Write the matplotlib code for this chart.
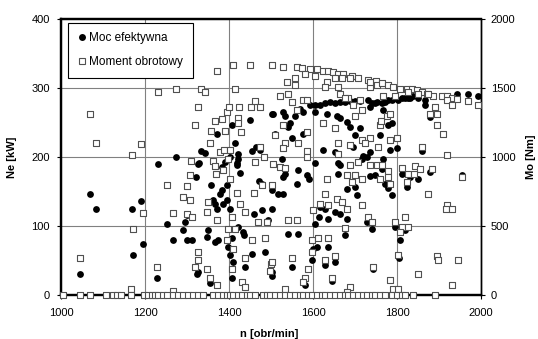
import matplotlib.pyplot as plt
from matplotlib.lines import Line2D

plt.rcParams["font.family"] = ["Liberation Sans", "DejaVu Sans"]

# ── data ──────────────────────────────────────────────────────────────────────
# Moc efektywna: (n [obr/min], Ne [kW])
moc_n = [1045, 1069, 1083, 1169, 1190, 1171, 1195, 1167, 1229, 1252,
         1231, 1274, 1329, 1333, 1343, 1371, 1383, 1390, 1407, 1414,
         1419, 1421, 1450, 1455, 1464, 1474, 1502, 1402, 1326, 1321,
         1357, 1383, 1379, 1395, 1419, 1421, 1426, 1471, 1479, 1362,
         1367, 1386, 1395, 1402, 1371, 1479, 1460, 1493, 1300, 1295,
         1350, 1348, 1290, 1267, 1300, 1312, 1367, 1374, 1421, 1433,
         1436, 1407, 1398, 1410, 1486, 1455, 1402, 1410, 1438, 1324,
         1326, 1355, 1407, 1502,
         1593, 1605, 1617, 1629, 1640, 1652, 1664, 1676, 1688, 1700,
         1712, 1731, 1740, 1752, 1569, 1736, 1505, 1529, 1533, 1557,
         1545, 1540, 1576, 1605, 1633, 1657, 1664, 1681, 1688, 1712,
         1700, 1576, 1510, 1550, 1624, 1652, 1695, 1736, 1719,
         1526, 1533, 1529, 1562, 1564, 1586, 1590, 1605, 1660, 1664,
         1660, 1681, 1700, 1705, 1717, 1729, 1736, 1748, 1502, 1517,
         1529, 1502, 1617, 1629, 1652, 1664, 1681, 1614, 1636, 1605,
         1729, 1740, 1540, 1564, 1676, 1610, 1600, 1636, 1598, 1550,
         1629, 1652, 1502, 1581, 1645, 1743,
         1748, 1764, 1771, 1779, 1788, 1795, 1802, 1812, 1819, 1826,
         1831, 1838, 1850, 1867, 1867, 1931, 1943, 1969, 1993, 1879,
         1767, 1779, 1788, 1760, 1783, 1800, 1860, 1919,
         1767, 1764, 1771, 1779, 1788, 1812, 1824, 1831, 1850, 1879,
         1955, 1795, 1819, 1807, 1805]
moc_ne = [30, 146, 125, 125, 136, 58, 74, 9, 25, 103,
          190, 200, 191, 208, 206, 233, 185, 193, 246, 221,
          191, 204, 253, 208, 214, 210, 262, 200, 190, 171,
          159, 152, 146, 159, 188, 197, 177, 165, 161, 138,
          132, 132, 138, 125, 125, 123, 118, 109, 116, 106,
          94, 84, 94, 80, 80, 79, 77, 80, 99, 92,
          87, 82, 70, 67, 63, 60, 58, 48, 41, 30,
          34, 17, 25, 27,
          275, 276, 276, 278, 279, 278, 279, 279, 281, 281,
          281, 282, 278, 279, 269, 272, 263, 265, 260, 260,
          249, 243, 265, 265, 263, 260, 256, 250, 243, 242,
          232, 234, 234, 227, 210, 207, 214, 207, 202,
          197, 175, 171, 161, 181, 174, 168, 192, 192, 188,
          175, 154, 157, 145, 197, 200, 172, 174, 152, 146,
          146, 125, 128, 125, 120, 118, 110, 113, 110, 103,
          106, 96, 89, 89, 87, 70, 66, 70, 51, 41,
          44, 48, 34, 15, 20, 38,
          278, 278, 279, 282, 282, 285, 283, 285, 286, 286,
          286, 289, 285, 282, 275, 279, 291, 291, 288, 258,
          268, 246, 249, 232, 210, 213, 208, 203,
          197, 183, 161, 155, 145, 175, 157, 171, 168, 178,
          174, 99, 94, 80, 53]

# Moment obrotowy: (n [obr/min], Mo [Nm])
mom_n = [1045, 1069, 1083, 1169, 1190, 1171, 1195, 1167, 1231, 1274,
         1333, 1343, 1371, 1410, 1450, 1502, 1414, 1326, 1319, 1367,
         1383, 1395, 1400, 1424, 1452, 1462, 1474, 1421, 1421, 1357,
         1390, 1429, 1355, 1379, 1388, 1474, 1510, 1310, 1362, 1402,
         1483, 1462, 1229, 1252, 1267, 1267, 1398, 1307, 1369, 1367,
         1386, 1402, 1300, 1290, 1307, 1350, 1419, 1426, 1460, 1479,
         1502, 1300, 1312, 1348, 1371, 1407, 1438, 1469, 1490, 1398,
         1414, 1395, 1455, 1486, 1410, 1326, 1326, 1438, 1319, 1348,
         1407, 1500, 1498, 1355, 1371, 1431, 1438,
         1529, 1562, 1574, 1593, 1610, 1624, 1636, 1648, 1660, 1671,
         1693, 1707, 1731, 1750, 1557, 1581, 1605, 1633, 1652, 1669,
         1688, 1538, 1557, 1540, 1521, 1629, 1660, 1664, 1683, 1676,
         1736, 1736, 1752, 1550, 1576, 1586, 1712, 1695, 1717, 1700,
         1529, 1562, 1586, 1624, 1652, 1533, 1564, 1529, 1586, 1660,
         1688, 1717, 1736, 1724, 1760,
         1505, 1521, 1533, 1586, 1660, 1688, 1707, 1736, 1752, 1633,
         1681, 1700, 1693, 1717, 1629, 1657, 1669, 1617, 1636, 1681,
         1600, 1717, 1731, 1740, 1540, 1562, 1676, 1598, 1612, 1636,
         1598, 1550, 1629, 1652, 1588, 1581, 1576, 1645, 1502, 1743,
         1533, 1688, 1681,
         1764, 1779, 1790, 1807, 1824, 1836, 1848, 1860, 1871, 1886,
         1907, 1919, 1931, 1943, 1969, 1993, 1767, 1795, 1826, 1850,
         1874, 1919, 1931, 1890, 1879, 1895, 1895, 1910, 1776, 1783,
         1762, 1783, 1755, 1860, 1800,
         1919, 1812, 1843, 1855, 1883, 1826, 1840, 1824, 1955, 1874,
         1919, 1917, 1931, 1764, 1779, 1779, 1760, 1783, 1819, 1795,
         1812, 1826, 1807, 1802, 1895, 1898, 1945, 1850, 1931, 1783,
         1790, 1802]
mom_mo = [270, 1310, 1100, 1015, 1095, 475, 595, 45, 1470, 1490,
          1495, 1470, 1620, 1670, 1670, 1665, 1495, 1365, 1230, 1260,
          1275, 1325, 1360, 1360, 1365, 1405, 1360, 1280, 1245, 1185,
          1185, 1180, 1105, 1035, 1050, 1070, 1160, 970, 970, 1050,
          1000, 965, 200, 795, 595, 30, 985, 870, 875, 935,
          905, 840, 790, 710, 690, 675, 740, 660, 740, 795,
          795, 590, 565, 600, 545, 565, 600, 530, 530, 480,
          480, 400, 400, 410, 330, 315, 255, 265, 205, 185,
          185, 225, 175, 125, 75, 95, 60,
          1655, 1650, 1645, 1640, 1635, 1625, 1620, 1615, 1605, 1600,
          1585, 1570, 1555, 1550, 1575, 1605, 1585, 1540, 1570, 1570,
          1575, 1540, 1520, 1460, 1445, 1505, 1505, 1460, 1430, 1425,
          1505, 1540, 1520, 1395, 1410, 1410, 1410, 1375, 1340, 1300,
          1230, 1340, 1180, 1245, 1210, 1105, 1100, 1065, 1045, 1105,
          1085, 1120, 1135, 1100, 1230,
          950, 925, 920, 1000, 1020, 940, 965, 940, 940, 840,
          870, 870, 820, 840, 730, 695, 675, 660, 655, 625,
          615, 655, 565, 530, 545, 540, 485, 395, 415, 415,
          315, 265, 255, 280, 185, 120, 95, 120, 240, 205,
          45, 60, 25,
          1535, 1525, 1510, 1495, 1495, 1490, 1485, 1470, 1460, 1445,
          1440, 1445, 1425, 1420, 1405, 1380, 1445, 1445, 1470, 1460,
          1455, 1410, 1375, 1360, 1315, 1315, 1230, 1170, 1300, 1310,
          1260, 1120, 1070, 1070, 1135,
          1015, 920, 935, 915, 915, 875, 875, 820, 855, 730,
          655, 625, 625, 940, 900, 855, 840, 805, 565, 530,
          495, 495, 460, 290, 280, 255, 255, 155, 75, 110,
          45, 45]

# points with zero torque lying on the axis
mom0_n = [1005, 1045, 1069, 1107, 1124, 1133, 1143, 1167, 1198, 1207,
          1217, 1224, 1231, 1243, 1252, 1267, 1279, 1291, 1302, 1314,
          1326, 1338, 1362, 1374, 1386, 1395, 1402, 1410, 1421, 1431,
          1443, 1450, 1462, 1481, 1490, 1498, 1510, 1521, 1533, 1545,
          1557, 1569, 1576, 1588, 1598, 1610, 1621, 1629, 1640, 1652,
          1664, 1676, 1683, 1695, 1707, 1719, 1729, 1740, 1748, 1760,
          1771, 1788, 1800, 1812, 1819, 1838, 1890]

# ── plot ──────────────────────────────────────────────────────────────────────
FS = 8
fig = plt.figure(figsize=(5.38, 3.39), dpi=100)
ax = fig.add_axes([61 / 538, 44 / 339, 420 / 538, 276 / 339])
ax2 = ax.twinx()

ax.set_xlim(1000, 2000)
ax.set_ylim(0, 400)
ax2.set_ylim(0, 2000)
ax.set_xticks(range(1000, 2001, 200))
ax.set_yticks(range(0, 401, 100))
ax2.set_yticks(range(0, 2001, 500))
ax.grid(True, color="#808080", lw=0.8)
ax.set_axisbelow(True)

ax.scatter(moc_n, moc_ne, s=24, c="black", linewidths=0,
           zorder=3, clip_on=False)
ax2.scatter(mom_n + mom0_n, mom_mo + [0] * len(mom0_n), s=17, marker="s",
            facecolors="white", edgecolors="#505050", linewidths=0.8,
            zorder=3, clip_on=False)

for a in (ax, ax2):
    for side in ("left", "top", "bottom"):
        a.spines[side].set_linewidth(1.6)
    a.spines["right"].set_linewidth(1.0)
    a.spines[:].set_color("black")

ax.tick_params(axis="y", direction="out", length=3, width=0.8,
               labelsize=FS, pad=5)
ax.tick_params(axis="x", direction="out", length=3, width=0.8,
               labelsize=FS, pad=6)
ax2.tick_params(axis="y", direction="out", length=3, width=0.8,
                labelsize=FS, pad=4)

fig.text(12 / 538, 1 - 157 / 339, "Ne [kW]", rotation=90, ha="center",
         va="center", fontsize=FS, fontweight="bold")
fig.text(531 / 538, 1 - 157 / 339, "Mo [Nm]", rotation=90, ha="center",
         va="center", fontsize=FS, fontweight="bold")
fig.text(269 / 538, 1 - 329 / 339, "n [obr/min]", ha="center", va="top",
         fontsize=FS, fontweight="bold")

handles = [
    Line2D([], [], ls="none", marker="o", markersize=5, color="black",
           markeredgewidth=0, label="Moc efektywna"),
    Line2D([], [], ls="none", marker="s", markersize=4.5,
           markerfacecolor="white", markeredgecolor="#505050",
           markeredgewidth=0.8, label="Moment obrotowy"),
]
leg = ax2.legend(handles=handles, loc="upper left",
                 bbox_to_anchor=(7 / 420, (295 - 23) / 276),
                 borderaxespad=0, fontsize=8.5, frameon=True, fancybox=False,
                 edgecolor="black", framealpha=1, handlelength=0.8,
                 handletextpad=0.2, labelspacing=1.0, borderpad=0.8)
leg.get_frame().set_linewidth(0.8)

fig.savefig("out.png", dpi=100)
